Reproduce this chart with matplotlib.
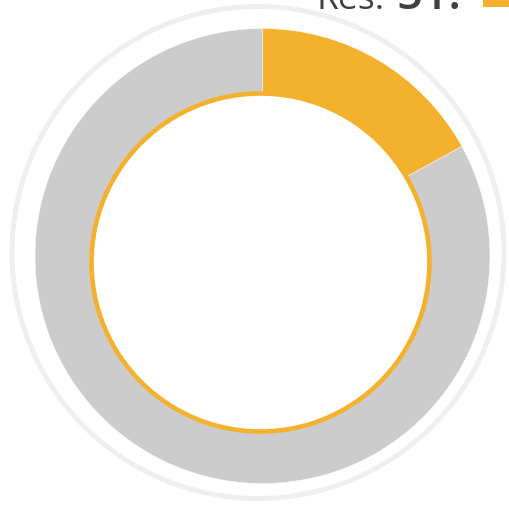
import matplotlib.pyplot as plt
from matplotlib.patches import Circle, Rectangle

labels = ['Res.', 'Rest']
values = [17, 83]
colors = ['#F4B12E', '#CCCCCC']
title_label = 'Res.'
title_value = '51.'

W, H = 509, 505
fig = plt.figure(figsize=(W / 100, H / 100), dpi=100)
ax = fig.add_axes([0, 0, 1, 1])
ax.set_xlim(0, W)
ax.set_ylim(0, H)
ax.set_aspect('equal')
ax.axis('off')

# faint outer halo ring
ax.add_patch(Circle((258, H - 252.5), 246, fill=False, ec='#EFEFEF', lw=3.6))

# the donut itself
ax.pie(values, colors=colors, startangle=90, counterclock=False,
       center=(262.5, H - 256), radius=227.5,
       wedgeprops=dict(width=90, edgecolor='white', linewidth=0.3))
ax.set_xlim(0, W)
ax.set_ylim(0, H)

# white hole with orange rim
ax.add_patch(Circle((260.5, H - 262.5), 169, fc='white', ec='#F4B12E', lw=3.3, zorder=5))

# header text, partly above the top edge
fig.text(317 / W, 1 - 9 / H, title_label, fontsize=25.5, color='#404040',
         ha='left', va='baseline', family='Open Sans')
fig.text(396 / W, 1 - 9 / H, title_value, fontsize=33, color='#404040',
         ha='left', va='baseline', family='Open Sans', weight='semibold')
ax.add_patch(Rectangle((483, H - 7), 30, 12, fc='#F4B12E', ec='none', clip_on=False))

fig.savefig('out.png', dpi=100)
